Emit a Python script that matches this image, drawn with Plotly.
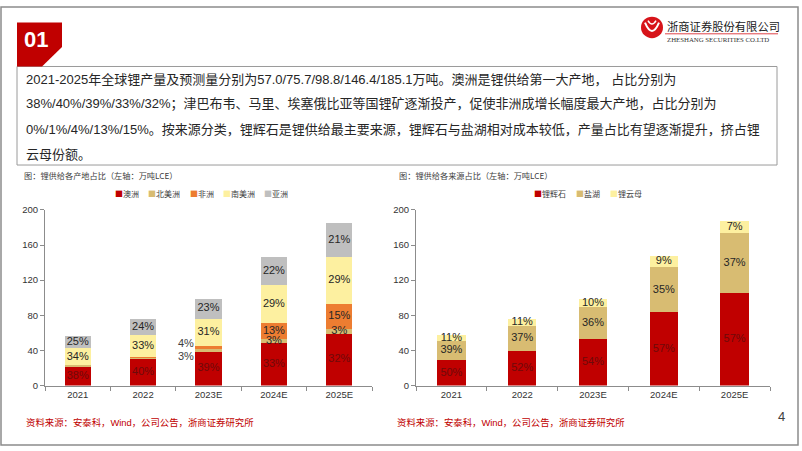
import numpy as np
import plotly.graph_objects as go

# ---------------- data ----------------
years = ["2021", "2022", "2023E", "2024E", "2025E"]

# left chart: supply by region (万吨LCE)
region_names = ["澳洲", "北美洲", "非洲", "南美洲", "亚洲"]
aus = [21.7, 30.3, 38.5, 48.3, 59.2]
n_am = [1.1, 1.5, 3.0, 4.4, 5.6]
africa = [0.0, 0.8, 4.0, 19.0, 27.8]
s_am = [19.4, 25.0, 30.6, 42.5, 53.7]
asia = [14.3, 18.2, 22.7, 32.2, 38.9]
aus_pct = [38, 40, 39, 33, 32]
n_am_pct = [2, 2, 3, 3, 3]
africa_pct = [0, 1, 4, 13, 15]
s_am_pct = [34, 33, 31, 29, 29]
asia_pct = [25, 24, 23, 22, 21]

# right chart: supply by source (万吨LCE)
source_names = ["锂辉石", "盐湖", "锂云母"]
spodumene = [28.5, 39.4, 53.4, 83.4, 105.5]
brine = [22.2, 28.0, 35.6, 51.2, 68.5]
lepidolite = [6.3, 8.3, 9.9, 13.2, 13.0]
spodumene_pct = [50, 52, 54, 57, 57]
brine_pct = [39, 37, 36, 35, 37]
lepidolite_pct = [11, 11, 10, 9, 7]

y_ticks = [0, 40, 80, 120, 160, 200]

text_lines = [
    "2021-2025年全球锂产量及预测量分别为57.0/75.7/98.8/146.4/185.1万吨。澳洲是锂供给第一大产地， 占比分别为",
    "38%/40%/39%/33%/32%；津巴布韦、马里、埃塞俄比亚等国锂矿逐渐投产，促使非洲成增长幅度最大产地，占比分别为",
    "0%/1%/4%/13%/15%。按来源分类，锂辉石是锂供给最主要来源，锂辉石与盐湖相对成本较低，产量占比有望逐渐提升，挤占锂",
    "云母份额。",
]
left_title = "图：锂供给各产地占比（左轴：万吨LCE）"
right_title = "图：锂供给各来源占比（左轴：万吨LCE）"
source_text = "资料来源：安泰科，Wind，公司公告，浙商证券研究所"

# ---------------- style ----------------
W, H = 802, 451
def px(x): return x / W
def py(y): return 1 - y / H

C_RED = "#C00000"
C_TAN = "#D8BC72"
C_ORANGE = "#ED7D31"
C_YEL = "#FDF0A0"
C_GRAY = "#BFBFBF"
region_colors = [C_RED, C_TAN, C_ORANGE, C_YEL, C_GRAY]
source_colors = [C_RED, C_TAN, C_YEL]
CJK = "Noto Sans CJK SC"
MIX = "Liberation Sans, Arial, Noto Sans CJK SC"
AX = "#8c8c8c"

fig = go.Figure()

def add_stack(series, pcts, colors, names, xa, ya, outside=None):
    base = np.zeros(len(years))
    annos = []
    for k, (vals, pc, col, nm) in enumerate(zip(series, pcts, colors, names)):
        vals = np.array(vals, dtype=float)
        fig.add_trace(go.Bar(x=years, y=vals, name=nm, marker=dict(color=col, line=dict(width=0)),
                             width=0.4, xaxis=xa, yaxis=ya, showlegend=False, hoverinfo="skip"))
        mids = base + vals / 2
        tcol = "#6e0a0a" if col == C_RED else "#262626"
        xs, ys, ts = [], [], []
        for i in range(len(years)):
            if outside and k in outside and i < outside["ncat"]:
                annos.append(dict(x=years[i], y=base[i], xref=xa, yref=ya,
                                  text=f"{pc[i]}%", showarrow=False, xshift=-23, yshift=outside[k],
                                  font=dict(family="Arial", size=11, color="#404040")))
            else:
                xs.append(years[i]); ys.append(mids[i]); ts.append(f"{pc[i]}%")
        fig.add_trace(go.Scatter(x=xs, y=ys, text=ts, mode="text", xaxis=xa, yaxis=ya,
                                 textfont=dict(family="Arial", size=11, color=tcol),
                                 showlegend=False, hoverinfo="skip"))
        base = base + vals
    return annos

annos = []
annos += add_stack([aus, n_am, africa, s_am, asia],
                   [aus_pct, n_am_pct, africa_pct, s_am_pct, asia_pct],
                   region_colors, region_names, "x", "y",
                   outside={1: -4, 2: 6, "ncat": 3})
annos += add_stack([spodumene, brine, lepidolite],
                   [spodumene_pct, brine_pct, lepidolite_pct],
                   source_colors, source_names, "x2", "y2")

ydom = [py(389), py(209)]
axis_common = dict(showline=True, linecolor=AX, linewidth=1, ticks="outside", ticklen=4,
                   tickcolor=AX, showgrid=False, zeroline=False,
                   tickfont=dict(family="Arial", size=9.5, color="#333333"))
fig.update_layout(
    width=W, height=H, autosize=False,
    margin=dict(l=0, r=0, t=0, b=0),
    paper_bgcolor="white", plot_bgcolor="white",
    barmode="stack", showlegend=False,
    xaxis=dict(domain=[px(45), px(372)], anchor="y", type="category", tickson="boundaries",
               range=[-0.5, 4.5], **axis_common),
    yaxis=dict(domain=ydom, anchor="x", range=[0, 200], tickvals=y_ticks, **axis_common),
    xaxis2=dict(domain=[px(416), px(770)], anchor="y2", type="category", tickson="boundaries",
                range=[-0.5, 4.5], **axis_common),
    yaxis2=dict(domain=ydom, anchor="x2", range=[0, 200], tickvals=y_ticks, **axis_common),
)

shapes = []
# page frame
shapes.append(dict(type="rect", xref="paper", yref="paper", x0=px(1), x1=px(798), y0=py(450), y1=py(1),
                   line=dict(color="#8c8c8c", width=1.5), layer="below"))
# text box
shapes.append(dict(type="rect", xref="paper", yref="paper", x0=px(17), x1=px(777), y0=py(163), y1=py(62),
                   line=dict(color="#9a9a9a", width=1)))
# red "01" tab
pts = [(17, 17), (62, 17), (62, 42), (42, 62), (17, 62)]
path = "M " + " L ".join(f"{px(x)},{py(y)}" for x, y in pts) + " Z"
shapes.append(dict(type="path", xref="paper", yref="paper", path=path,
                   fillcolor="#C00000", line=dict(width=0)))
# logo
shapes.append(dict(type="circle", xref="paper", yref="paper", x0=px(641), x1=px(663), y0=py(33), y1=py(11),
                   fillcolor="#D7141A", line=dict(width=0)))
shapes.append(dict(type="path", xref="paper", yref="paper",
                   path=f"M {px(645)},{py(17)} Q {px(652)},{py(34)} {px(659)},{py(17)}",
                   line=dict(color="white", width=2)))
shapes.append(dict(type="path", xref="paper", yref="paper",
                   path=f"M {px(648)},{py(15)} Q {px(652)},{py(22)} {px(656)},{py(15)}",
                   line=dict(color="white", width=1.5)))
shapes.append(dict(type="line", xref="paper", yref="paper", x0=px(665), x1=px(778), y0=py(28.5), y1=py(28.5),
                   line=dict(color="#D7141A", width=0.8)))

def pa(x, y, text, size, color="#333333", family=CJK, xanchor="left", bold=False):
    return dict(x=px(x), y=py(y), xref="paper", yref="paper", text=f"<b>{text}</b>" if bold else text,
                showarrow=False, xanchor=xanchor, yanchor="middle",
                font=dict(family=family, size=size, color=color))

annos.append(pa(36, 34, "01", 22, "white", "Arial", "center", bold=True))
annos.append(pa(665, 21, "浙商证券股份有限公司", 11.3, "#1a1a1a"))
annos.append(pa(665, 34, "ZHESHANG SECURITIES CO.LTD", 6.8, "#333333", "Liberation Serif"))

for i, line in enumerate(text_lines):
    annos.append(pa(24, 75 + i * 25.7, line, 13.0, "#262626", MIX))

annos.append(pa(22, 173, left_title, 8.2, "#404040"))
annos.append(pa(397, 173, right_title, 8.2, "#404040"))

# custom legends
leg_fs = 8
def legend(x0, names, colors, gap):
    x = x0
    for nm, col in zip(names, colors):
        annos.append(pa(x, 192, f"<span style='color:{col}'>■</span>{nm}", leg_fs, "#404040"))
        x += (1 + len(nm)) * leg_fs + gap
legend(113, region_names, region_colors, 9.25)
legend(532, source_names, source_colors, 10)

annos.append(pa(24, 427, source_text, 9.4, "#C00000", MIX))
annos.append(pa(395, 427, source_text, 9.4, "#C00000", MIX))
annos.append(pa(781, 421, "4", 13, "#404040", "Arial", "center"))

fig.update_layout(shapes=shapes, annotations=annos)
fig.write_html("out.html", config={"displayModeBar": False},
               post_script="document.body.style.margin='0';document.body.style.overflow='hidden';")
